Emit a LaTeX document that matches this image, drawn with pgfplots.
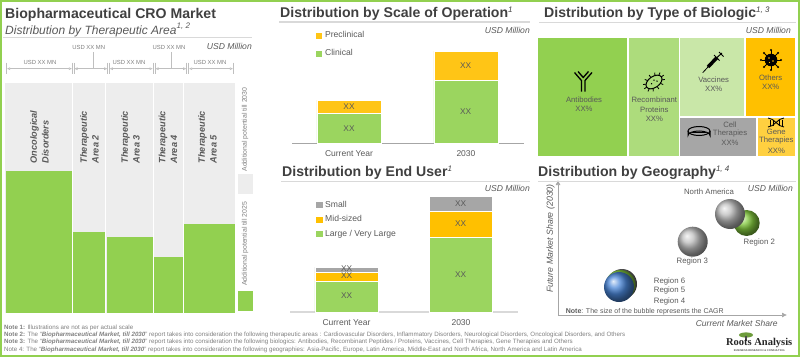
\documentclass[border=0pt]{standalone}
\usepackage{pgfplots}
\pgfplotsset{compat=1.18}
\usepackage{fontspec}
\setmainfont{Liberation Sans}
\newfontfamily\seriffont{Liberation Serif}
\usetikzlibrary{arrows.meta}
\definecolor{fr}{HTML}{92D050}
\definecolor{barg}{HTML}{9BD55F}
\definecolor{amb}{HTML}{FFC000}
\definecolor{amb2}{HTML}{FFC516}
\definecolor{gr}{HTML}{A6A6A6}
\definecolor{ballgray}{HTML}{BDBDBD}
\definecolor{dimc}{HTML}{BFBFBF}
\definecolor{bgg}{HTML}{EDEDED}
\definecolor{tit}{HTML}{404040}
\definecolor{txt}{HTML}{595959}
\definecolor{ltxt}{HTML}{7F7F7F}
\definecolor{rulec}{HTML}{D9D9D9}
\definecolor{ballblue}{HTML}{4A86D8}
\definecolor{ballgreen}{HTML}{84CC3E}
\newcommand{\fs}[1]{\fontsize{#1}{#1}\selectfont}
\newcommand{\supr}[1]{\raisebox{5.5pt}{\fs{8}\itshape\mdseries #1}}
\newcommand{\rectplot}[5]{\addplot[fill=#5,draw=none] coordinates {(#1,#2)(#3,#2)(#3,#4)(#1,#4)} --cycle;}
\pgfplotsset{
  px axis/.style={scale only axis,anchor=south west,clip=false,enlargelimits=false},
  stacked/.style={px axis,ybar stacked,ymin=0,xtick=data,xticklabels={Current Year,2030},
    axis x line*=bottom,hide y axis,xtick style={draw=none},
    tick label style={font=\fs{8.5},text=txt},
    xticklabel style={yshift=-4pt},
    /pgf/number format/assume math mode=true,
    legend cell align=left,reverse legend,
    legend image code/.code={\fill[##1] (0pt,-3.5pt) rectangle (7.5pt,3.5pt);}},
  seg/.style={fill=#1,draw=white,line width=0.6pt},
  bubble/.style 2 args={only marks,mark=none,point meta=explicit symbolic,
    nodes near coords={},
    every node near coord/.style={circle,inner sep=0pt,minimum size=#1pt,ball color=#2,anchor=center}},
}
\tikzset{px/.style={x=1pt,y=-1pt,shift={(0pt,357pt)}},
  ttl/.style={font=\fs{14.1}\bfseries,text=tit,anchor=base west,inner sep=0pt},
  usd/.style={font=\fs{8.6}\itshape,text=txt,anchor=east,inner sep=0pt},
  lab/.style={font=\fs{7.7},text=txt,inner sep=0pt,align=center},
  xx/.style={font=\fs{8.3},text=txt,inner sep=0pt},
  rl/.style={rulec,line width=1.2pt},
  usdmn/.style={font=\fs{5.9},text=ltxt,inner sep=0pt},
  dim/.style={dimc,line width=0.6pt,{Latex[length=3.5pt,width=3pt,open]}-{Latex[length=3.5pt,width=3pt,open]}},
  dimt/.style={dimc,line width=0.6pt},
  rot/.style={font=\fs{9.2}\bfseries\itshape,text=txt,rotate=90,anchor=west,align=left,inner sep=0pt},
  rg/.style={font=\fs{7.8},text=txt,inner sep=0pt},
  addp/.style={font=\fs{6.9},text=ltxt,rotate=90,inner sep=0pt},
  note/.style={font=\fs{6.2},text=ltxt,anchor=west,inner sep=0pt}}
\begin{document}
\begin{tikzpicture}
\path[use as bounding box] (0pt,0pt) rectangle (800pt,357pt);
% ---------- Marimekko
\begin{axis}[px axis,at={(5pt,44pt)},width=230pt,height=230pt,xmin=5,xmax=235,ymin=0,ymax=230,hide axis]
\rectplot{5}{0}{72}{230}{bgg}
\rectplot{73}{0}{105}{230}{bgg}
\rectplot{106}{0}{153}{230}{bgg}
\rectplot{154}{0}{183}{230}{bgg}
\rectplot{184}{0}{235}{230}{bgg}
\rectplot{6}{0}{72}{141.7}{fr}
\rectplot{73}{0}{105}{81}{fr}
\rectplot{106.5}{0}{153}{75.7}{fr}
\rectplot{154.3}{0}{182.5}{55.7}{fr}
\rectplot{183.5}{0}{235}{89}{fr}
\end{axis}
% ---------- Swatches
\begin{axis}[px axis,at={(238pt,46pt)},width=15pt,height=137pt,xmin=238,xmax=253,ymin=0,ymax=137,hide axis]
\rectplot{238}{0}{253}{20}{fr}
\rectplot{238}{117}{253}{137}{bgg}
\end{axis}
% ---------- Scale of operation
\begin{axis}[stacked,at={(292pt,214pt)},width=232pt,height=100pt,ymax=100,
  xmin=-0.487,xmax=1.496,bar width=64pt,axis line style={gr,line width=0.6pt},
  legend style={at={(axis description cs:0.099,1.135)},anchor=north west,draw=none,fill=none,
    font=\fs{8.6},text=txt,row sep=6.5pt,inner sep=0pt,outer sep=0pt}]
\addplot[seg=barg] coordinates {(0,30)(1,63)};
\addplot[seg=amb2] coordinates {(0,13)(1,29)};
\legend{Clinical,Preclinical}
\end{axis}
% ---------- End user
\begin{axis}[stacked,at={(290pt,45pt)},width=228pt,height=116pt,ymax=116,
  xmin=-0.493,xmax=1.498,bar width=63pt,axis line style={rulec,line width=1.2pt},
  legend style={at={(axis description cs:0.11,0.975)},anchor=north west,draw=none,fill=none,
    font=\fs{8.6},text=txt,row sep=3pt,inner sep=0pt,outer sep=0pt}]
\addplot[seg=barg] coordinates {(0,31)(1,75)};
\addplot[seg=amb] coordinates {(0,9)(1,26)};
\addplot[seg=gr] coordinates {(0,5)(1,15)};
\legend{Large / Very Large,Mid-sized,Small}
\end{axis}
% ---------- Treemap
\begin{axis}[px axis,at={(538pt,201.5pt)},width=257pt,height=117.5pt,xmin=538,xmax=795,ymin=38,ymax=155.5,y dir=reverse,hide axis]
\rectplot{538}{38}{627}{155.5}{fr}
\rectplot{628.7}{38}{678.7}{155.5}{fr!75!white}
\rectplot{680}{38}{744}{116}{fr!50!white}
\rectplot{745.7}{38}{795}{116}{amb}
\rectplot{680}{117.5}{756}{155.5}{gr}
\rectplot{757.7}{117.5}{795}{155.5}{amb!75!white}
\end{axis}
% ---------- Bubbles
\begin{axis}[scale only axis,anchor=south west,at={(558pt,42pt)},width=229pt,height=135pt,xmin=0,xmax=229,ymin=0,ymax=135,
  axis lines=left,clip=false,xtick=\empty,ytick=\empty,
  axis line style={gr,line width=0.7pt,-{Latex[length=5pt,width=5pt]}}]
\addplot[bubble={26}{ballgreen}] coordinates {(188.7,92)};
\addplot[bubble={30}{ballgray}] coordinates {(172,101)};
\addplot[bubble={30}{ballgray}] coordinates {(134.7,73.3)};
\addplot[bubble={30}{gr!70!black}] coordinates {(64,31)};
\addplot[bubble={30}{ballgreen}] coordinates {(62.5,30)};
\addplot[bubble={30}{ballblue}] coordinates {(61,28)};
\end{axis}
\begin{scope}[px]
% frame
\draw[fr,line width=2pt] (1,1) rectangle (799,356);
% bar labels
\node[xx] at (349,106.7) {XX};
\node[xx] at (349,128.3) {XX};
\node[xx] at (465.7,65.7) {XX};
\node[xx] at (465.7,111.7) {XX};
\node[xx] at (346.7,296) {XX};
\node[xx] at (346.7,275.7) {XX};
\node[xx] at (346.7,269) {XX};
\node[xx] at (460.7,274.3) {XX};
\node[xx] at (460.7,223.3) {XX};
\node[xx] at (460.7,203.3) {XX};
% titles
\node[ttl] at (5,18.5) {Biopharmaceutical CRO Market};
\node[anchor=base west,inner sep=0pt,font=\fs{12}\itshape,text=txt] at (5,34) {Distribution by Therapeutic Area\supr{1, 2}};
\draw[rl] (3,37.7)--(252,37.7);
\node[usd] at (252,46) {USD Million};
\node[ttl] at (280,18) {Distribution by Scale of Operation\supr{1}};
\draw[rl] (279,22)--(530,22);
\node[usd] at (530,30.5) {USD Million};
\node[ttl] at (282,176.5) {Distribution by End User\supr{1}};
\draw[rl] (281,181.7)--(530,181.7);
\node[usd] at (530,188) {USD Million};
\node[ttl] at (544,18) {Distribution by Type of Biologic\supr{1, 3}};
\draw[rl] (539,22.7)--(796,22.7);
\node[usd] at (791,30) {USD Million};
\node[ttl] at (538,176.5) {Distribution by Geography\supr{1, 4}};
\draw[rl] (538,181.7)--(796,181.7);
\node[usd] at (793,188) {USD Million};
% dimension lines
\foreach \a/\b in {6.7/72.3,74/107.7,109.3/153,155/186.7,188.7/233.3}{
  \draw[dim] (\a,68.7)--(\b,68.7);
  \draw[dimt] (\a,62.7)--(\a,74);
  \draw[dimt] (\b,62.7)--(\b,74);
}
\draw[dimt] (93,52)--(93,68.7);
\draw[dimt] (171.3,52)--(171.3,68.7);
\node[usdmn] at (40,62) {USD XX MN};
\node[usdmn] at (88.7,47.7) {USD XX MN};
\node[usdmn] at (129,62) {USD XX MN};
\node[usdmn] at (169,47.7) {USD XX MN};
\node[usdmn] at (210,62) {USD XX MN};
% rotated labels
\node[rot] at (39.5,163.5) {Oncological\\[2.6pt]Disorders};
\node[rot] at (89.5,163.5) {Therapeutic\\[2.6pt]Area 2};
\node[rot] at (130.5,163.5) {Therapeutic\\[2.6pt]Area 3};
\node[rot] at (168,163.5) {Therapeutic\\[2.6pt]Area 4};
\node[rot] at (207.5,163.5) {Therapeutic\\[2.6pt]Area 5};
\node[addp] at (245,129.5) {Additional potential till 2030};
\node[addp] at (245,243.7) {Additional potential till 2025};
% treemap labels
\node[lab] at (584,99.3) {Antibodies};
\node[lab] at (584,109.3) {XX\%};
\node[lab] at (654.3,100) {Recombinant};
\node[lab] at (654.3,109.3) {Proteins};
\node[lab] at (654.3,119) {XX\%};
\node[lab] at (713.7,79.7) {Vaccines};
\node[lab] at (713.7,89) {XX\%};
\node[lab] at (770.7,77.7) {Others};
\node[lab] at (770.7,87) {XX\%};
\node[lab] at (730,124.3) {Cell};
\node[lab] at (730,133.7) {Therapies};
\node[lab] at (730,143) {XX\%};
\node[lab] at (776.3,131.7) {Gene};
\node[lab] at (776.3,141) {Therapies};
\node[lab] at (776.3,150.7) {XX\%};
% icons
\draw[black,line width=1.3pt] (581.4,91.7)--(581.4,80.5)--(574.5,72.5);
\draw[black,line width=1.3pt] (585,91.7)--(585,80.5)--(592,72.5);
\draw[black,line width=1.3pt] (578,71.5)--(583.2,77.5)--(588.5,71.5);
\begin{scope}[rotate around={35:(654,82)}]
\draw[black,line width=1pt] (654,82) ellipse [x radius=9,y radius=5.5];
\foreach \a in {0,30,...,330}{\draw[black,line width=0.8pt] ({654+9*cos(\a)},{82+5.5*sin(\a)})--({654+12*cos(\a)},{82+8.5*sin(\a)});}
\fill[black] (651,82) circle (0.8) (655,80.5) circle (0.8) (657,83) circle (0.8);
\end{scope}
\draw[black,line width=0.8pt] (702.7,72.7)--(708,67);
\draw[black,line width=3.5pt] (708,67)--(717,57.5);
\draw[black,line width=1pt] (717,57.5)--(722,53);
\draw[black,line width=1pt] (719,52)--(723.5,56.5);
\draw[black,line width=1pt] (714,55)--(719.5,60.5);
\fill[black] (771,60) circle (6.3);
\foreach \a in {0,45,...,315}{\draw[black,line width=0.9pt] (771,60)--++(\a:9.5);\fill[black] (771,60)++(\a:10) circle (1.1);}
\fill[amb] (769,58) circle (0.9) (773,61) circle (0.9) (769.5,62.5) circle (0.7);
\draw[black,line width=1pt] (699,131) ellipse [x radius=11,y radius=4.5];
\draw[black,line width=1pt] (688,131)--(688,135.5) arc[start angle=180,end angle=360,x radius=11,y radius=4.5]--(710,131);
\draw[black,line width=0.7pt] (692,132.5)--(706,132.5);
\draw[black,line width=0.9pt] (768,118) .. controls (774,118) and (778,127) .. (784,127);
\draw[black,line width=0.9pt] (768,127) .. controls (774,127) and (778,118) .. (784,118);
\foreach \x in {770,773,779,782}{\draw[black,line width=0.6pt] (\x,119.5)--(\x,125.5);}
% bubble labels
\node[rg] at (709,192) {North America};
\node[rg] at (759.3,242) {Region 2};
\node[rg] at (692.3,261.7) {Region 3};
\node[rg,anchor=west] at (653.7,281) {Region 6};
\node[rg,anchor=west] at (653.7,290) {Region 5};
\node[rg,anchor=west] at (653.7,301) {Region 4};
\node[rg,anchor=west,font=\fs{7}] at (565.7,312) {\textbf{Note}: The size of the bubble represents the CAGR};
\node[font=\fs{8.5}\itshape,text=txt,inner sep=0pt] at (736.7,323.7) {Current Market Share};
\node[font=\fs{8.8}\itshape,text=txt,inner sep=0pt,rotate=90] at (550.7,238.5) {Future Market Share (2030)};
% notes
\node[note] at (4,327.7) {\textbf{Note 1:} Illustrations are not as per actual scale};
\node[note] at (4,335) {\textbf{Note 2:} The ``\textbf{\textit{Biopharmaceutical Market, till 2030}}'' report takes into consideration the following therapeutic areas : Cardiovascular Disorders, Inflammatory Disorders, Neurological Disorders, Oncological Disorders, and Others};
\node[note] at (4,342.3) {\textbf{Note 3:} The ``\textbf{\textit{Biopharmaceutical Market, till 2030}}'' report takes into consideration the following biologics: Antibodies, Recombinant Peptides / Proteins, Vaccines, Cell Therapies, Gene Therapies and Others};
\node[note] at (4,349.7) {Note 4: The ``\textbf{\textit{Biopharmaceutical Market, till 2030}}'' report takes into consideration the following geographies: Asia-Pacific, Europe, Latin America, Middle-East and North Africa, North America and Latin America};
% logo
\fill[fr!75!black] (746,335) ellipse [x radius=7,y radius=2.6];
\fill[black!70] (745.3,336) rectangle (746.7,341);
\node[font=\fs{10.5}\bfseries\seriffont,text=black!85,inner sep=0pt] at (759.2,342.7) {Roots Analysis};
\node[font=\fs{2.7}\bfseries,text=txt,inner sep=0pt] at (759.2,351) {BUSINESS RESEARCH \& CONSULTING};
\end{scope}
\end{tikzpicture}
\end{document}
